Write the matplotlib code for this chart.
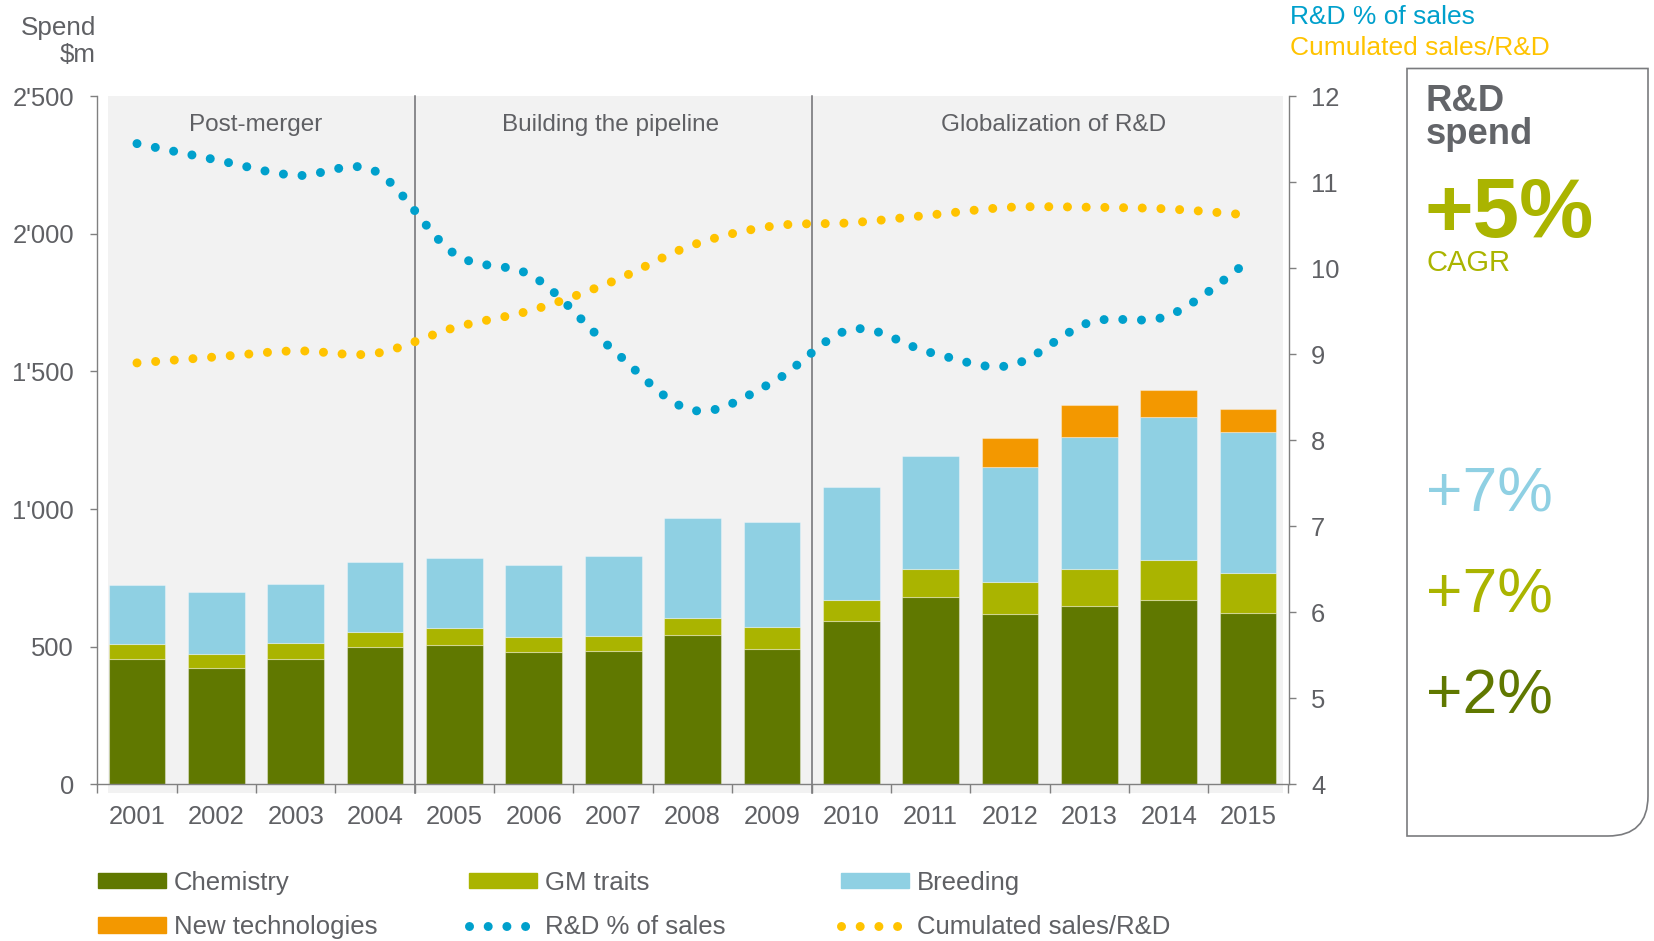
import numpy as np
import matplotlib
matplotlib.use('Agg')
import matplotlib.pyplot as plt
from matplotlib.path import Path
from matplotlib.patches import PathPatch, Patch
from matplotlib.lines import Line2D
import matplotlib.transforms as mtransforms

plt.rcParams['font.family'] = ['Liberation Sans', 'DejaVu Sans']

# ---------------- data ----------------
years = ['2001', '2002', '2003', '2004', '2005', '2006', '2007', '2008',
         '2009', '2010', '2011', '2012', '2013', '2014', '2015']
chemistry = [456, 424, 456, 498, 507, 481, 486, 544, 493, 595, 682, 619, 648, 670, 624]
gm_traits = [55, 51, 57, 57, 61, 55, 52, 61, 80, 75, 100, 117, 134, 145, 143]
breeding = [213, 223, 216, 254, 254, 261, 293, 363, 379, 410, 412, 416, 479, 520, 512]
new_tech = [0, 0, 0, 0, 0, 0, 0, 0, 0, 0, 0, 106, 117, 97, 85]
rd_pct_sales = [11.45, 11.26, 11.08, 11.13, 10.17, 9.90, 9.05, 8.35, 8.67,
                9.29, 9.02, 8.87, 9.37, 9.45, 10.08]
cum_sales_rd = [8.90, 8.97, 9.04, 9.01, 9.31, 9.52, 9.85, 10.27, 10.49,
                10.53, 10.62, 10.71, 10.71, 10.69, 10.62]
periods = ['Post-merger', 'Building the pipeline', 'Globalization of R&D']
period_breaks = [3.5, 8.5]
left_ticks = [0, 500, 1000, 1500, 2000, 2500]
left_tick_labels = ['0', '500', "1'000", "1'500", "2'000", "2'500"]
right_ticks = [4, 5, 6, 7, 8, 9, 10, 11, 12]
cagr_total = '+5%'
cagr_segments = ['+7%', '+7%', '+2%']

# ---------------- style ----------------
C_CHEM = '#607800'
C_GM = '#aab400'
C_BREED = '#8fd0e3'
C_NEW = '#f39800'
C_BLUE = '#00a0cc'
C_YELLOW = '#ffc300'
C_TEXT = '#5f6064'
C_AXIS = '#808080'
C_BG = '#f2f2f2'

W, H = 1654, 941
fig = plt.figure(figsize=(W / 100, H / 100), dpi=100)

def fx(x):
    return x / W

def fy(y):
    return 1 - y / H

ax_left, ax_right, ax_top, ax_bot = 97, 1289, 96.3, 784.3
ax = fig.add_axes([fx(ax_left), fy(ax_bot), fx(ax_right - ax_left), (ax_bot - ax_top) / H])
ax2 = ax.twinx()

x = np.arange(len(years))
ax.set_xlim(-0.504, 14.516)
ax.set_ylim(0, 2500)
ax2.set_ylim(4, 12)

# background panel
ax.axvspan(-0.365, 14.44, ymin=-0.013, ymax=1, color=C_BG, zorder=0, clip_on=False, lw=0)

# bars
edge = (1, 1, 1, 0.35)
bw = 0.715
b1 = np.array(chemistry)
b2 = b1 + np.array(gm_traits)
b3 = b2 + np.array(breeding)
ax.bar(x, chemistry, bw, color=C_CHEM, edgecolor=edge, lw=0.8, zorder=2)
ax.bar(x, gm_traits, bw, bottom=b1, color=C_GM, edgecolor=edge, lw=0.8, zorder=2)
ax.bar(x, breeding, bw, bottom=b2, color=C_BREED, edgecolor=edge, lw=0.8, zorder=2)
nt = np.array(new_tech)
mask = nt > 0
ax.bar(x[mask], nt[mask], bw, bottom=b3[mask], color=C_NEW, edgecolor=edge, lw=0.8, zorder=2)

# period separators and labels
for b in period_breaks:
    ax.axvline(b, ymin=-0.013, ymax=1, color='#6d6e71', lw=1.1, zorder=1.5, clip_on=False)
label_x = [1.49, 5.97, 11.55]
trans = mtransforms.blended_transform_factory(ax.transData, ax.transAxes)
for lx, lab in zip(label_x, periods):
    ax.text(lx, 0.950, lab, transform=trans, ha='center',
            va='baseline', fontsize=17.5, color=C_TEXT, zorder=5)

# smooth dotted curves (cubic Bezier through the yearly points)
def smooth_path(xs, ys):
    xs = np.asarray(xs, float)
    ys = np.asarray(ys, float)
    n = len(xs)
    verts = [(xs[0], ys[0])]
    codes = [Path.MOVETO]
    for i in range(n - 1):
        i0 = max(i - 1, 0)
        i3 = min(i + 2, n - 1)
        c1 = (xs[i] + (xs[i + 1] - xs[i0]) / 6, ys[i] + (ys[i + 1] - ys[i0]) / 6)
        c2 = (xs[i + 1] - (xs[i3] - xs[i]) / 6, ys[i + 1] - (ys[i3] - ys[i]) / 6)
        verts += [c1, c2, (xs[i + 1], ys[i + 1])]
        codes += [Path.CURVE4] * 3
    return Path(verts, codes)

DOT_LW = 6.5
DOT_STYLE = (0, (0.001, 2.07))
for vals, col in [(cum_sales_rd, C_YELLOW), (rd_pct_sales, C_BLUE)]:
    pp = PathPatch(smooth_path(x, vals), transform=ax2.transData, facecolor='none',
                   edgecolor=col, lw=DOT_LW, linestyle=DOT_STYLE, capstyle='round',
                   joinstyle='round', zorder=4)
    ax2.add_patch(pp)

# axes styling
for a in (ax, ax2):
    for s in a.spines.values():
        s.set_color(C_AXIS)
        s.set_linewidth(1.0)
    a.spines['top'].set_visible(False)
ax.spines['right'].set_visible(False)
ax2.spines['left'].set_visible(False)
ax2.spines['bottom'].set_visible(False)
ax2.patch.set_visible(False)
ax.patch.set_facecolor('white')

ax.set_yticks(left_ticks)
ax.set_yticklabels(left_tick_labels)
ax.tick_params(axis='y', direction='out', length=5, width=1, color=C_AXIS,
               labelsize=18.4, labelcolor=C_TEXT, pad=11.5)
ax2.set_yticks(right_ticks)
ax2.set_yticklabels([str(t) for t in right_ticks])
ax2.tick_params(axis='y', direction='out', length=5, width=1, color=C_AXIS,
                labelsize=18.4, labelcolor=C_TEXT, pad=10.8)

ax.set_xticks(x)
ax.set_xticklabels(years)
ax.set_xticks(np.arange(-0.5, 15, 1), minor=True)
ax.tick_params(axis='x', which='major', length=0, labelsize=18.4, labelcolor=C_TEXT, pad=15)
ax.tick_params(axis='x', which='minor', direction='out', length=6.5, width=1, color=C_AXIS)

# axis titles
fig.text(fx(96), fy(34.5), 'Spend', ha='right', va='baseline', fontsize=18.7, color=C_TEXT)
fig.text(fx(96), fy(61.5), '$m', ha='right', va='baseline', fontsize=18.7, color=C_TEXT)
fig.text(fx(1290), fy(23.5), 'R&D % of sales', ha='left', va='baseline', fontsize=19, color=C_BLUE)
fig.text(fx(1290), fy(55), 'Cumulated sales/R&D', ha='left', va='baseline', fontsize=19, color=C_YELLOW)

# legend (three columns)
leg_kw = dict(frameon=False, fontsize=18.5, labelcolor=C_TEXT, handlelength=2.65,
              handleheight=0.53, handletextpad=0.31, labelspacing=0.78,
              borderpad=0, borderaxespad=0, loc='upper left')
dot_handle = lambda c: Line2D([], [], color=c, lw=DOT_LW, linestyle=DOT_STYLE,
                              dash_capstyle='round')
cols = [
    ([Patch(color=C_CHEM), Patch(color=C_NEW)], ['Chemistry', 'New technologies'], 98),
    ([Patch(color=C_GM), dot_handle(C_BLUE)], ['GM traits', 'R&D % of sales'], 469),
    ([Patch(color=C_BREED), dot_handle(C_YELLOW)], ['Breeding', 'Cumulated sales/R&D'], 841),
]
for hs, ls, xp in cols:
    fig.legend(hs, ls, bbox_to_anchor=(fx(xp), fy(871)), **leg_kw)

# right summary box (bottom-right corner rounded)
bx0, bx1, by0, by1, r = 1407, 1648, 68.5, 836, 40
verts = [(fx(bx0), fy(by0)), (fx(bx1), fy(by0)), (fx(bx1), fy(by1 - r)),
         (fx(bx1), fy(by1)), (fx(bx1 - r), fy(by1)), (fx(bx0), fy(by1)), (fx(bx0), fy(by0))]
codes = [Path.MOVETO, Path.LINETO, Path.LINETO, Path.CURVE3, Path.CURVE3, Path.LINETO, Path.CLOSEPOLY]
fig.patches.append(PathPatch(Path(verts, codes), transform=fig.transFigure, facecolor='none',
                             edgecolor='#7a7b7e', lw=1.2))

fig.text(fx(1426), fy(144.5), 'R&D\nspend', ha='left', va='baseline', fontsize=26.3,
         fontweight='bold', color='#636569', linespacing=0.93)
fig.text(fx(1424), fy(237), cagr_total, ha='left', va='baseline', fontsize=60,
         fontweight='bold', color=C_GM)
fig.text(fx(1426), fy(271), 'CAGR', ha='left', va='baseline', fontsize=21, color=C_GM)
for lab, col, yb in zip(cagr_segments, [C_BREED, C_GM, C_CHEM], [511, 612.5, 713.5]):
    fig.text(fx(1426), fy(yb), lab, ha='left', va='baseline', fontsize=45, color=col)

fig.savefig('out.png', dpi=100, facecolor='white')
